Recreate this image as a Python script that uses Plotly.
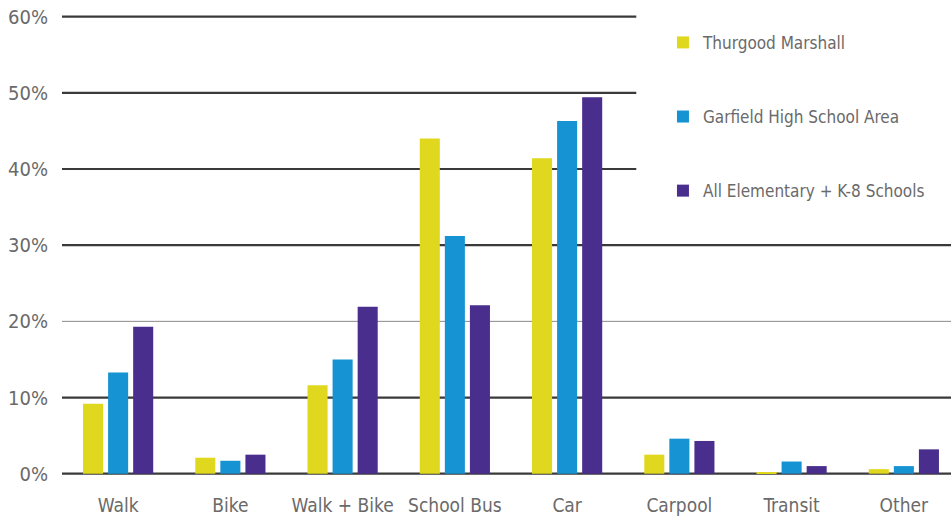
import plotly.graph_objects as go

categories = ["Walk", "Bike", "Walk + Bike", "School Bus", "Car", "Carpool", "Transit", "Other"]
thurgood = [9.2, 2.1, 11.6, 44.0, 41.4, 2.5, 0.2, 0.6]
garfield = [13.3, 1.7, 15.0, 31.2, 46.3, 4.6, 1.6, 1.0]
all_elem = [19.3, 2.5, 21.9, 22.1, 49.4, 4.3, 1.0, 3.2]
series_names = ["Thurgood Marshall", "Garfield High School Area", "All Elementary + K-8 Schools"]
colors = ["#E0D81E", "#1593D2", "#4A2E8E"]
y_ticks = [0, 10, 20, 30, 40, 50, 60]

FONT = "DejaVu Sans Condensed"
TXT = "#6a6a6a"

fig = go.Figure()
for name, vals, c in zip(series_names, [thurgood, garfield, all_elem], colors):
    fig.add_trace(go.Bar(x=categories, y=vals, name=name, marker=dict(color=c, line=dict(width=0)),
                         legendgroup=name))

shapes = []
for t in y_ticks:
    x1 = 0.646 if t >= 40 else 1.0
    if t == 20:
        lc, lw = "#8a8a8a", 1
    else:
        lc, lw = "#3a3a3a", 2.2
    shapes.append(dict(type="line", xref="paper", yref="y", x0=0, x1=x1, y0=t, y1=t,
                       line=dict(color=lc, width=lw), layer="below"))

fig.update_layout(
    width=951, height=522,
    margin=dict(l=62, r=0, t=9.4, b=45.7, autoexpand=False),
    plot_bgcolor="white", paper_bgcolor="white",
    barmode="group", bargap=0.33, bargroupgap=0.2,
    font=dict(family=FONT, color=TXT, size=17),
    shapes=shapes,
    showlegend=True,
    legend=dict(x=0.676, y=0.966, xanchor="left", yanchor="top", bgcolor="rgba(0,0,0,0)",
                font=dict(family=FONT, size=17, color=TXT), tracegroupgap=49,
                itemwidth=30),
    xaxis=dict(range=[-0.5, 7.42], showgrid=False, zeroline=False, showline=False,
               tickfont=dict(family=FONT, size=19, color=TXT), ticklabelstandoff=16,
               automargin=False),
    yaxis=dict(range=[-0.3, 61], tickvals=y_ticks, ticktext=[f"{v}%" for v in y_ticks],
               showgrid=False, zeroline=False, showline=False,
               tickfont=dict(family=FONT, size=20, color=TXT), ticklabelstandoff=13,
               automargin=False),
)

fig.write_html("out.html", config={"displayModeBar": False},
               post_script="document.body.style.margin='0px';document.body.style.overflow='hidden';")
